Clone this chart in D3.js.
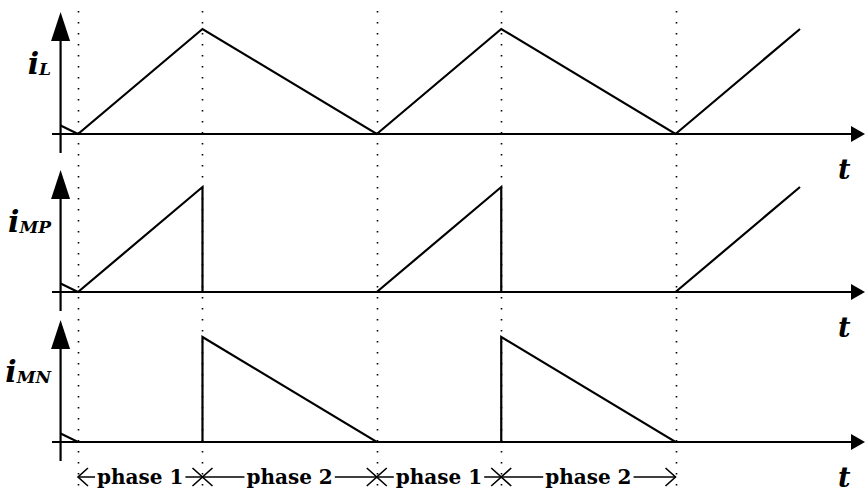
<!DOCTYPE html>
<html>
<head>
<meta charset="utf-8">
<script src="https://cdn.jsdelivr.net/npm/d3@7"></script>
<style>
  html, body { margin: 0; padding: 0; background: #fff; }
  svg { display: block; }
</style>
</head>
<body>
<svg id="chart" width="865" height="494"></svg>
<script>
// Switching waveforms of a buck-style converter: inductor current and the two switch currents.

// Time instants (normalised), duplicated where a waveform jumps
const time = [-0.14, 0, 1, 1, 2.4, 3.4, 3.4, 4.8, 5.8];
// Normalised currents at each time instant
const iL  = [0.08, 0, 1, 1, 0, 1, 1, 0, 1];
const iMP = [0.08, 0, 1, 0, 0, 1, 0, 0, 1];
const iMN = [0.08, 0, 0, 1, 0, 0, 1, 0, 0];
// Phase boundaries and their labels
const phaseEdges = [0, 1, 2.4, 3.4, 4.8];
const phaseLabels = ["phase 1", "phase 2", "phase 1", "phase 2"];
// Panel signal names: main letter + subscript
const signalNames = [["i", "L"], ["i", "MP"], ["i", "MN"]];
const signalValues = [iL, iMP, iMN];

const W = 865, H = 494;
const svg = d3.select("#chart");

const x = d3.scaleLinear().domain([0, 5.8]).range([78, 800]);
const originX = x(time[0]);

const panelAxisY = [134, 292, 442];
const peakHeight = 105;
const serif = "'DejaVu Serif', 'Liberation Serif', serif";

// dotted phase-boundary guides across the full height
svg.append("g").selectAll("line")
  .data(phaseEdges)
  .join("line")
  .attr("x1", d => Math.round(x(d)) + 0.5)
  .attr("x2", d => Math.round(x(d)) + 0.5)
  .attr("y1", 11).attr("y2", H)
  .attr("stroke", "#000")
  .attr("stroke-width", 1.6)
  .attr("stroke-dasharray", "1.6 9.4");

const line = d3.line().x(d => x(d[0])).y(d => d[1]);

signalValues.forEach((vals, k) => {
  const ay = panelAxisY[k];
  const y = d3.scaleLinear().domain([0, 1]).range([ay, ay - peakHeight]);
  const g = svg.append("g");

  // horizontal time axis with filled arrowhead
  g.append("line")
    .attr("x1", 52).attr("x2", 854)
    .attr("y1", ay).attr("y2", ay)
    .attr("stroke", "#000").attr("stroke-width", 2);
  g.append("path")
    .attr("d", `M865,${ay} L851,${ay - 8} L851,${ay + 8} Z`)
    .attr("fill", "#000");

  // vertical current axis with filled arrowhead
  const topY = ay - 122;
  g.append("line")
    .attr("x1", originX).attr("x2", originX)
    .attr("y1", topY + 25).attr("y2", ay + 19)
    .attr("stroke", "#000").attr("stroke-width", 2.2);
  g.append("path")
    .attr("d", `M${originX},${topY} L${originX + 9.5},${topY + 29} L${originX - 9.5},${topY + 29} Z`)
    .attr("fill", "#000");

  // waveform
  const pts = time.map((t, i) => [t, y(vals[i])]);
  g.append("path")
    .attr("d", line(pts))
    .attr("fill", "none")
    .attr("stroke", "#000")
    .attr("stroke-width", 2.2)
    .attr("stroke-linejoin", "miter");

  // signal name
  const lab = g.append("text")
    .attr("x", 51).attr("y", ay - 60)
    .attr("text-anchor", "end")
    .attr("font-family", serif)
    .attr("font-weight", "bold")
    .attr("font-style", "italic");
  lab.append("tspan").attr("font-size", 30).text(signalNames[k][0]);
  lab.append("tspan").attr("font-size", 17).attr("dy", 1).text(signalNames[k][1]);

  // time label
  g.append("text")
    .attr("x", 838).attr("y", ay + 45)
    .attr("font-family", serif)
    .attr("font-weight", "bold")
    .attr("font-style", "italic")
    .attr("font-size", 27)
    .text("t");
});

// phase annotation row
const py = 477;
const pg = svg.append("g").attr("stroke", "#000").attr("fill", "none").attr("stroke-width", 1.6);
pg.append("line")
  .attr("x1", x(phaseEdges[0])).attr("x2", x(phaseEdges[phaseEdges.length - 1]))
  .attr("y1", py).attr("y2", py);

phaseEdges.forEach((t, i) => {
  const px = x(t);
  let d = "";
  if (i < phaseEdges.length - 1) d += `M${px + 10},${py - 9} L${px},${py} L${px + 10},${py + 9}`;
  if (i > 0) d += `M${px - 10},${py - 9} L${px},${py} L${px - 10},${py + 9}`;
  pg.append("path").attr("d", d);
});

const labels = svg.append("g");
phaseLabels.forEach((lbl, i) => {
  const cx = (x(phaseEdges[i]) + x(phaseEdges[i + 1])) / 2;
  const t = labels.append("text")
    .attr("x", cx).attr("y", py + 7)
    .attr("text-anchor", "middle")
    .attr("font-family", serif)
    .attr("font-weight", "bold")
    .attr("font-size", 20)
    .text(lbl);
  const bb = t.node().getBBox();
  labels.insert("rect", "text")
    .attr("x", bb.x - 2).attr("width", bb.width + 4)
    .attr("y", py - 3).attr("height", 6)
    .attr("fill", "#fff");
});
</script>
</body>
</html>
